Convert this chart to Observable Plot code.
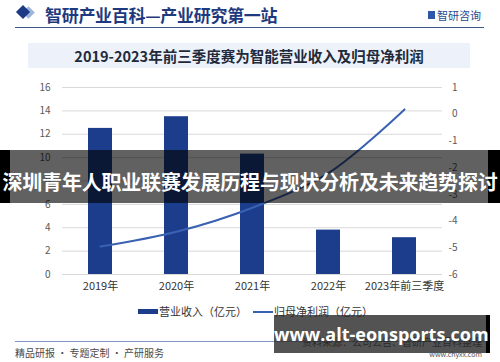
<!DOCTYPE html>
<html>
<head>
<meta charset="utf-8">
<script src="https://cdn.jsdelivr.net/npm/d3@7"></script>
<script src="https://cdn.jsdelivr.net/npm/@observablehq/plot@0.6"></script>
<style>
  html, body { margin:0; padding:0; background:#fff; }
  body { width:500px; height:362px; position:relative; overflow:hidden; font-family:"Noto Sans CJK SC","Noto Sans",sans-serif; }
  .abs { position:absolute; white-space:nowrap; }
  #chart { position:absolute; left:0; top:75px; }
  #chart svg { overflow:visible; }
</style>
</head>
<body>
<script>
// ---- data ----
const categories = ["2019年", "2020年", "2021年", "2022年", "2023年前三季度"];
const revenue = [12.5, 13.5, 10.3, 3.8, 3.15];          // 营业收入（亿元）
const netProfit = [-4.95, -4.4, -3.5, -2.2, 0.18];      // 归母净利润（亿元）
const leftTicks = [0, 2, 4, 6, 8, 10, 12, 14, 16];
const rightTicks = [-6, -5, -4, -3, -2, -1, 0, 1];
const seriesNames = ["营业收入（亿元）", "归母净利润（亿元）"];
const headerTitle = "智研产业百科—产业研究第一站";
const chartTitle = "2019-2023年前三季度赛为智能营业收入及归母净利润";
const bannerText = "深圳青年人职业联赛发展历程与现状分析及未来趋势探讨";
const siteText = "www.alt-eonsports.com";
const footerLeft = "精品研报 · 专题定制 · 产研服务";
const footerSource = "资料来源：公司公告、智研产业百科整理";
const footerUrl = "www.chyxx.com";
const logoText = "智研咨询";

const leftDomain = [0, 16];
const rightDomain = [-6, 1];
const toLeft = v => leftDomain[0] + (v - rightDomain[0]) * (leftDomain[1] - leftDomain[0]) / (rightDomain[1] - rightDomain[0]);
const fromLeft = v => rightDomain[0] + (v - leftDomain[0]) * (rightDomain[1] - rightDomain[0]) / (leftDomain[1] - leftDomain[0]);

const data = categories.map((c, i) => ({cat: c, rev: revenue[i], np: netProfit[i]}));

const navy = "#1c3d8c";
const lineBlue = "#3a62b2";

function addText(txt, style) {
  const d = document.createElement("div");
  d.className = "abs";
  d.textContent = txt;
  Object.assign(d.style, style);
  document.body.appendChild(d);
  return d;
}
function addBox(style) {
  const d = document.createElement("div");
  d.className = "abs";
  Object.assign(d.style, style);
  document.body.appendChild(d);
  return d;
}

// ---- header ----
addBox({left:"19px", top:"8px", width:"9px", height:"9px", background:"#9fb4dc", transform:"rotate(45deg)", left:"24px"});
addBox({left:"18px", top:"7px", width:"10px", height:"10px", background:"#1d3a86", transform:"rotate(45deg)"});
addText(headerTitle, {left:"45px", top:"2px", fontSize:"17px", fontWeight:"700", color:"#1e3a7e", letterSpacing:"-0.3px", fontFamily:"'Noto Sans CJK SC',serif"});
addBox({left:"428px", top:"11px", width:"7px", height:"8px", background:"#2e56a8"});
addText(logoText, {left:"437px", top:"7px", fontSize:"11px", color:"#2c4a8c"});
addBox({left:"15px", top:"27px", width:"469px", height:"1px", background:"#3d5488"});

// ---- chart title box ----
addBox({left:"28px", top:"43px", width:"442px", height:"25px", background:"#edf2fa"});
addText(chartTitle, {left:"28px", top:"45px", width:"442px", textAlign:"center", fontSize:"14.5px", fontWeight:"700", color:"#222a3a"});

// ---- plot ----
const plot = Plot.plot({
  width: 500,
  height: 226,
  marginLeft: 62,
  marginRight: 58,
  marginTop: 12,
  marginBottom: 27,
  style: {fontFamily: "'Noto Sans CJK SC','Noto Sans',sans-serif", background: "transparent"},
  x: {domain: categories, paddingInner: 0, paddingOuter: 0},
  y: {domain: leftDomain},
  marks: [
    Plot.gridY(leftTicks, {stroke: "#d9d9d9", strokeOpacity: 1}),
    Plot.barY(data, {x: "cat", y: "rev", fill: navy, insetLeft: 26, insetRight: 26}),
    Plot.line(data, {x: "cat", y: d => toLeft(d.np), curve: "catmull-rom", stroke: lineBlue, strokeWidth: 2}),
    Plot.axisY(leftTicks, {tickSize: 0, tickPadding: 12, fontSize: 10, fill: "#595959", label: null}),
    Plot.axisY(rightTicks.map(toLeft), {anchor: "right", tickSize: 0, tickPadding: 15, textAnchor: "end",
      tickFormat: v => String(Math.round(fromLeft(v))), fontSize: 10, fill: "#595959", label: null}),
    Plot.axisX({tickSize: 0, tickPadding: 8, fontSize: 11, fill: "#333", label: null})
  ]
});
const holder = document.createElement("div");
holder.id = "chart";
holder.appendChild(plot);
document.body.appendChild(holder);

// ---- legend ----
addBox({left:"138px", top:"309px", width:"20px", height:"5px", background:navy});
addText(seriesNames[0], {left:"159px", top:"303px", fontSize:"11px", color:"#333"});
addBox({left:"253px", top:"311px", width:"20px", height:"2px", background:lineBlue});
addText(seriesNames[1], {left:"274px", top:"303px", fontSize:"11px", color:"#333"});

// ---- footer ----
addBox({left:"15px", top:"341px", width:"470px", height:"1px", background:"#8398c4"});
addText(footerLeft, {left:"15px", top:"345px", fontSize:"10px", color:"#4a4a4a"});
addText(footerSource, {right:"18px", top:"334px", fontSize:"10px", color:"#333"});
addText(footerUrl, {right:"18px", top:"349px", fontSize:"7px", color:"#555"});

// ---- overlays ----
addBox({left:"0px", top:"150px", width:"10px", height:"53px", background:"#000"});
addBox({left:"488px", top:"150px", width:"12px", height:"53px", background:"#000"});
addBox({left:"10px", top:"150px", width:"478px", height:"53px", background:"rgba(0,0,0,0.62)"});
addText(bannerText, {left:"0px", top:"168px", width:"500px", textAlign:"center", fontSize:"20px", lineHeight:"28px", fontWeight:"700", color:"#fff", letterSpacing:"-0.2px"});

addBox({left:"274px", top:"315px", width:"212px", height:"38px", background:"rgba(40,40,40,0.8)"});
addBox({left:"486px", top:"315px", width:"4px", height:"38px", background:"#000"});
addText(siteText, {left:"274px", top:"322px", width:"212px", textAlign:"center", fontSize:"18px", lineHeight:"24px", fontWeight:"700", color:"#fff", fontFamily:"'Open Sans','DejaVu Sans',sans-serif"});
</script>
</body>
</html>
